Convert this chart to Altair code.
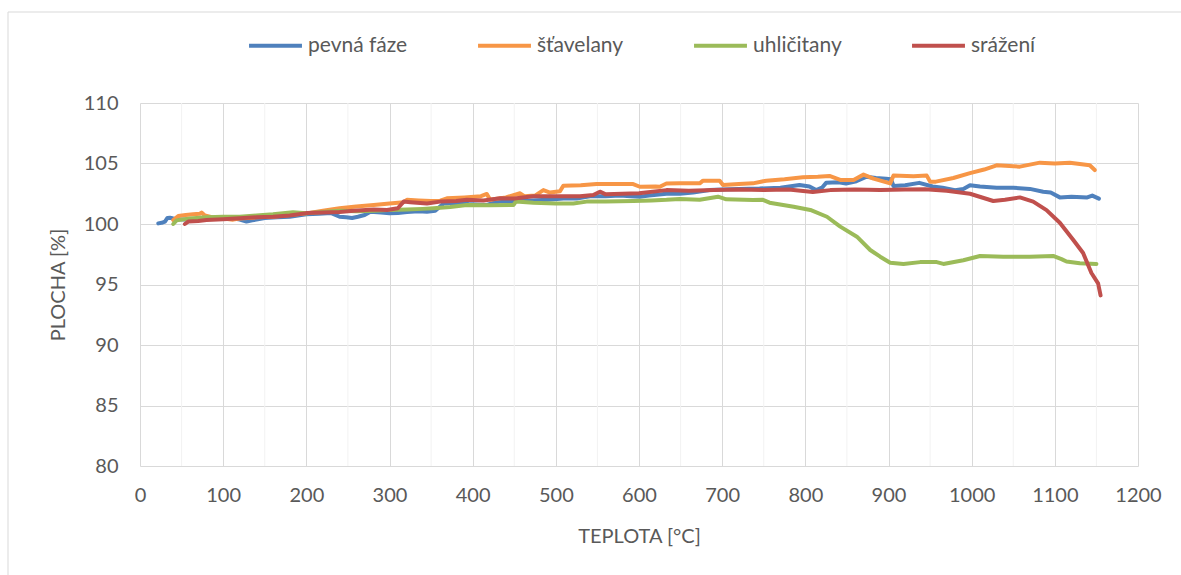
import altair as alt
import pandas as pd

# Temperature [°C] and area [%] for each sample series
pevna_t = [22, 26, 30, 33, 36, 40, 48, 60, 75, 90, 105, 120, 128, 135, 150, 165, 180, 200, 215, 230,
           240, 248, 255, 262, 270, 277, 290, 300, 310, 321, 335, 345, 355, 365, 380, 395, 410, 417, 425, 433,
           450, 470, 490, 513, 525, 541, 560, 577, 590, 601, 612, 633, 649, 665, 685, 700, 720, 745, 770, 793,
           805, 813, 820, 825, 840, 849, 860, 873, 885, 897, 903, 906, 920, 937, 953, 965, 980, 990, 998, 1010,
           1030, 1050, 1070, 1086, 1095, 1106, 1120, 1139, 1145, 1153]
pevna_v = [100.05, 100.1, 100.2, 100.5, 100.52, 100.45, 100.4, 100.35, 100.45, 100.5, 100.55, 100.36, 100.2, 100.3,
           100.5, 100.55, 100.6, 100.8, 100.85, 100.9, 100.6, 100.55, 100.5, 100.6, 100.74, 101.02, 100.95, 100.88,
           100.9, 101.0, 101.05, 101.02, 101.1, 101.7, 101.75, 101.65, 101.6, 101.57, 101.75, 101.85, 101.9, 101.95,
           102.0, 102.12, 102.1, 102.3, 102.3, 102.35, 102.3, 102.25, 102.35, 102.5, 102.5, 102.6, 102.8, 102.85,
           102.9, 102.93, 103.0, 103.22, 103.1, 102.8, 103.0, 103.4, 103.45, 103.35, 103.5, 103.9, 103.8, 103.75,
           103.7, 103.14, 103.2, 103.4, 103.1, 103.0, 102.8, 102.9, 103.2, 103.1, 103.0, 103.0, 102.9, 102.67,
           102.6, 102.2, 102.25, 102.2, 102.35, 102.1]

stav_t = [40, 46, 55, 64, 72, 74, 78, 90, 100, 112, 120, 140, 160, 180, 200, 220, 240, 260, 281, 300,
          317, 321, 335, 350, 361, 369, 390, 410, 417, 421, 440, 457, 462, 475, 485, 493, 505, 509, 530, 549,
          570, 593, 601, 620, 625, 633, 649, 673, 677, 697, 701, 720, 737, 753, 775, 797, 815, 829, 842, 858,
          870, 882, 902, 906, 930, 946, 950, 957, 978, 998, 1015, 1030, 1058, 1082, 1100, 1118, 1142, 1148]
stav_v = [100.33, 100.66, 100.75, 100.8, 100.85, 100.94, 100.7, 100.5, 100.45, 100.36, 100.45, 100.55, 100.6,
          100.75, 100.88, 101.1, 101.3, 101.45, 101.57, 101.7, 101.8, 102.0, 101.95, 101.9, 101.93, 102.12, 102.2,
          102.3, 102.48, 102.0, 102.2, 102.54, 102.3, 102.35, 102.8, 102.6, 102.7, 103.17, 103.2, 103.3, 103.3,
          103.3, 103.08, 103.1, 103.08, 103.35, 103.36, 103.36, 103.58, 103.58, 103.22, 103.3, 103.36, 103.58,
          103.7, 103.86, 103.9, 103.97, 103.64, 103.64, 104.08, 103.75, 103.36, 104.0, 103.95, 104.0, 103.5, 103.5,
          103.8, 104.2, 104.5, 104.85, 104.74, 105.07, 105.0, 105.07, 104.85, 104.46]

uhli_t = [40, 44, 60, 80, 100, 120, 140, 160, 184, 200, 220, 240, 260, 281, 300, 321, 340, 353, 373, 393,
          420, 449, 452, 473, 500, 521, 537, 560, 593, 615, 633, 649, 673, 695, 705, 737, 749, 757, 786, 806,
          826, 842, 862, 878, 890, 902, 918, 938, 958, 966, 990, 1010, 1038, 1070, 1098, 1108, 1114, 1130, 1150]
uhli_v = [100.0, 100.3, 100.45, 100.55, 100.6, 100.6, 100.7, 100.8, 100.97, 100.88, 101.0, 101.1, 101.05, 101.1,
          101.15, 101.2, 101.25, 101.3, 101.4, 101.57, 101.55, 101.57, 101.85, 101.75, 101.7, 101.7, 101.85, 101.85,
          101.9, 101.95, 102.0, 102.07, 102.0, 102.26, 102.04, 101.98, 102.0, 101.76, 101.43, 101.16, 100.6, 99.78,
          98.95, 97.85, 97.3, 96.8, 96.7, 96.85, 96.85, 96.7, 97.0, 97.36, 97.3, 97.3, 97.36, 97.1, 96.9, 96.75, 96.7]

sraz_t = [54, 58, 70, 80, 100, 120, 140, 160, 180, 200, 220, 240, 257, 281, 297, 310, 317, 325, 345, 361,
          380, 393, 413, 433, 450, 473, 500, 529, 545, 553, 560, 580, 600, 633, 660, 690, 720, 750, 780, 809,
          830, 860, 890, 920, 944, 970, 998, 1026, 1040, 1058, 1074, 1090, 1106, 1122, 1134, 1144, 1152, 1155]
sraz_v = [100.0, 100.2, 100.25, 100.33, 100.4, 100.47, 100.55, 100.6, 100.7, 100.9, 100.95, 101.0, 101.1, 101.2,
          101.15, 101.3, 101.85, 101.8, 101.7, 101.85, 101.9, 102.0, 101.95, 102.12, 102.1, 102.3, 102.3, 102.3,
          102.4, 102.67, 102.45, 102.5, 102.55, 102.8, 102.75, 102.8, 102.85, 102.8, 102.85, 102.65, 102.8, 102.85,
          102.8, 102.85, 102.87, 102.75, 102.5, 101.9, 102.0, 102.2, 101.85, 101.15, 100.1, 98.7, 97.6, 95.95,
          95.1, 94.1]

series_names = ["pevná fáze", "šťavelany", "uhličitany", "srážení"]
series_colors = ["#4F81BD", "#F79646", "#9BBB59", "#C0504D"]

minor_grid_t = [50, 150, 250, 350, 450, 550, 650, 750, 850, 950, 1050, 1150]
x_ticks = list(range(0, 1201, 100))
y_ticks = list(range(80, 111, 5))

FONT = "Lato"
TEXT = "#595959"
GRID = "#D9D9D9"

rows = []
for name, ts, vs in zip(series_names, [pevna_t, stav_t, uhli_t, sraz_t], [pevna_v, stav_v, uhli_v, sraz_v]):
    for i, (t, v) in enumerate(zip(ts, vs)):
        rows.append({"serie": name, "teplota": t, "plocha": v, "i": i})
data = pd.DataFrame(rows)
minor = pd.DataFrame({"teplota": minor_grid_t})

x_scale = alt.Scale(domain=[0, 1200], nice=False, zero=False)
y_scale = alt.Scale(domain=[80, 110], nice=False, zero=False)
x_axis = alt.Axis(title="TEPLOTA [°C]", values=x_ticks, format="d", grid=True, gridColor=GRID, domain=False,
                  ticks=False, labelPadding=19, titlePadding=21, labelFlush=False)
y_axis = alt.Axis(title="PLOCHA [%]", values=y_ticks, grid=True, gridColor=GRID, domain=False,
                  ticks=False, labelPadding=22, titlePadding=15)

# light minor gridlines halfway between the labelled temperatures
minor_lines = alt.Chart(minor).mark_rule(color="#F2F2F2", strokeWidth=1).encode(
    x=alt.X("teplota:Q", scale=x_scale, axis=x_axis)
)

lines = alt.Chart(data).mark_line(strokeWidth=4, strokeJoin="round", strokeCap="round").encode(
    x=alt.X("teplota:Q", scale=x_scale, axis=x_axis),
    y=alt.Y("plocha:Q", scale=y_scale, axis=y_axis),
    color=alt.Color("serie:N", sort=series_names,
                    scale=alt.Scale(domain=series_names, range=series_colors),
                    legend=alt.Legend(title=None, orient="none", direction="horizontal", legendX=107,
                                      legendY=-86, symbolType="stroke", symbolSize=2800,
                                      symbolStrokeWidth=4, columnPadding=62, labelOffset=4)),
    detail="serie:N",
    order="i:Q",
)

# outer chart frame
frame_top = alt.Chart().mark_rule(color=GRID, strokeWidth=1).encode(
    x=alt.value(-132), x2=alt.value(1060), y=alt.value(-91)
)
frame_left = alt.Chart().mark_rule(color=GRID, strokeWidth=1).encode(
    x=alt.value(-132), y=alt.value(-91), y2=alt.value(480)
)

chart = alt.layer(minor_lines, lines, frame_top, frame_left).properties(
    width=998, height=363,
    background="white",
    autosize=alt.AutoSizeParams(type="none"),
    padding={"left": 140, "top": 103, "right": 43, "bottom": 109},
).configure_view(stroke=None).configure_axis(
    labelFont=FONT, titleFont=FONT, labelColor=TEXT, titleColor=TEXT,
    labelFontSize=20, titleFontSize=20, titleFontWeight="normal",
).configure_legend(
    labelFont=FONT, labelFontSize=21, labelColor=TEXT,
)

chart.save("out.html", embed_options={"renderer": "svg", "actions": False})
